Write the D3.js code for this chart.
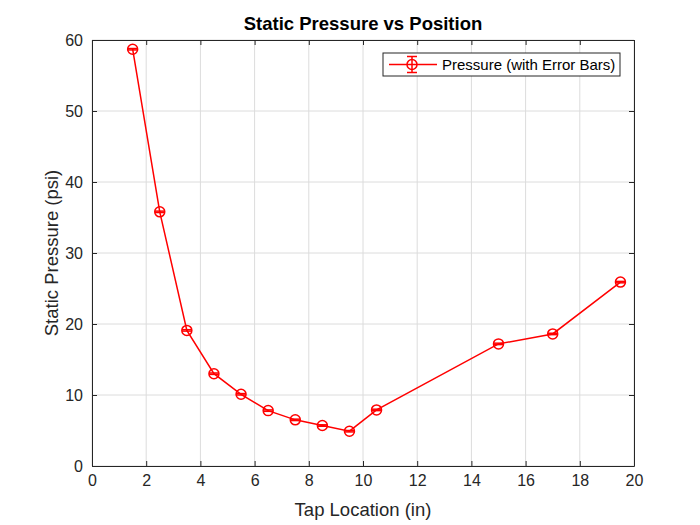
<!DOCTYPE html>
<html><head><meta charset="utf-8">
<script src="https://cdn.jsdelivr.net/npm/d3@7"></script>
<style>body{margin:0;background:#fff}svg{display:block;font-family:"Liberation Sans",Arial,sans-serif}</style>
</head><body><svg id="c" width="700" height="525"></svg>
<script>
const tapLocation = [1.5,2.5,3.5,4.5,5.5,6.5,7.5,8.5,9.5,10.5,15,17,19.5];
const pressure = [58.7,35.8,19.1,13.0,10.1,7.8,6.5,5.7,4.9,7.9,17.2,18.6,25.9];
const pressureErr = [0.1,0.1,0.1,0.1,0.1,0.1,0.1,0.1,0.1,0.1,0.1,0.1,0.1];
const xTicks = [0,2,4,6,8,10,12,14,16,18,20];
const yTicks = [0,10,20,30,40,50,60];
const titleText = "Static Pressure vs Position";
const xLabel = "Tap Location (in)";
const yLabel = "Static Pressure (psi)";
const legendLabel = "Pressure (with Error Bars)";

const svg = d3.select("#c");
const L=92,R=634,T=40,B=466;
const x = d3.scaleLinear().domain([0,20]).range([L,R]);
const y = d3.scaleLinear().domain([0,60]).range([B,T]);
const red="#ff0000";

// grid
svg.append("g").selectAll("line").data(xTicks).join("line")
  .attr("x1",d=>x(d)).attr("x2",d=>x(d)).attr("y1",T).attr("y2",B)
  .attr("stroke","#dcdcdc").attr("stroke-width",1);
svg.append("g").selectAll("line").data(yTicks).join("line")
  .attr("y1",d=>y(d)).attr("y2",d=>y(d)).attr("x1",L).attr("x2",R)
  .attr("stroke","#dcdcdc").attr("stroke-width",1);

// axes
const fmt = d3.format("d");
const gx = svg.append("g").attr("transform",`translate(0,${B})`)
  .call(d3.axisBottom(x).tickValues(xTicks).tickFormat(fmt).tickSizeInner(-5).tickSizeOuter(0).tickPadding(9));
const gxt = svg.append("g").attr("transform",`translate(0,${T})`)
  .call(d3.axisTop(x).tickValues(xTicks).tickFormat("").tickSizeInner(-5).tickSizeOuter(0));
const gy = svg.append("g").attr("transform",`translate(${L},0)`)
  .call(d3.axisLeft(y).tickValues(yTicks).tickFormat(fmt).tickSizeInner(-5).tickSizeOuter(0).tickPadding(9));
const gyr = svg.append("g").attr("transform",`translate(${R},0)`)
  .call(d3.axisRight(y).tickValues(yTicks).tickFormat("").tickSizeInner(-5).tickSizeOuter(0));
[gx,gxt,gy,gyr].forEach(g=>{
  g.selectAll("path,line").attr("stroke","#262626").attr("stroke-width",1);
  g.selectAll("text").attr("fill","#262626").style("font-size","16px").style("font-family","'Liberation Sans',Arial,sans-serif");
});

// line
svg.append("path").datum(tapLocation.map((d,i)=>[d,pressure[i]]))
  .attr("d",d3.line().x(d=>x(d[0])).y(d=>y(d[1])))
  .attr("fill","none").attr("stroke",red).attr("stroke-width",1.5);

// error bars
const eb = svg.append("g").attr("stroke",red).attr("stroke-width",1.5);
tapLocation.forEach((d,i)=>{
  const cx=x(d), y1=y(pressure[i]-pressureErr[i]), y2=y(pressure[i]+pressureErr[i]);
  eb.append("line").attr("x1",cx).attr("x2",cx).attr("y1",y1).attr("y2",y2);
  eb.append("line").attr("x1",cx-5).attr("x2",cx+5).attr("y1",y1).attr("y2",y1);
  eb.append("line").attr("x1",cx-5).attr("x2",cx+5).attr("y1",y2).attr("y2",y2);
});
// markers
svg.append("g").selectAll("circle").data(tapLocation).join("circle")
  .attr("cx",d=>x(d)).attr("cy",(d,i)=>y(pressure[i])).attr("r",5)
  .attr("fill","none").attr("stroke",red).attr("stroke-width",1.5);

// title and labels
svg.append("text").attr("x",(L+R)/2).attr("y",30).attr("text-anchor","middle")
  .style("font-size","18.5px").style("font-weight","bold").attr("fill","#000").text(titleText);
svg.append("text").attr("x",(L+R)/2).attr("y",516).attr("text-anchor","middle")
  .style("font-size","18.5px").attr("fill","#262626").text(xLabel);
svg.append("text").attr("transform",`translate(58,${(T+B)/2}) rotate(-90)`).attr("text-anchor","middle")
  .style("font-size","18.5px").attr("fill","#262626").text(yLabel);

// legend
const lg = svg.append("g");
lg.append("rect").attr("x",383).attr("y",53).attr("width",237).attr("height",23)
  .attr("fill","#fff").attr("stroke","#262626").attr("stroke-width",1);
const ly=64.5, lcx=412;
lg.append("line").attr("x1",389).attr("x2",437).attr("y1",ly).attr("y2",ly).attr("stroke",red).attr("stroke-width",1.5);
lg.append("line").attr("x1",lcx).attr("x2",lcx).attr("y1",ly-8).attr("y2",ly+8).attr("stroke",red).attr("stroke-width",1.5);
lg.append("line").attr("x1",lcx-5).attr("x2",lcx+5).attr("y1",ly-8).attr("y2",ly-8).attr("stroke",red).attr("stroke-width",1.5);
lg.append("line").attr("x1",lcx-5).attr("x2",lcx+5).attr("y1",ly+8).attr("y2",ly+8).attr("stroke",red).attr("stroke-width",1.5);
lg.append("circle").attr("cx",lcx).attr("cy",ly).attr("r",5).attr("fill","none").attr("stroke",red).attr("stroke-width",1.5);
lg.append("text").attr("x",442).attr("y",ly+5.5).style("font-size","15px").attr("fill","#000").text(legendLabel);
</script></body></html>
